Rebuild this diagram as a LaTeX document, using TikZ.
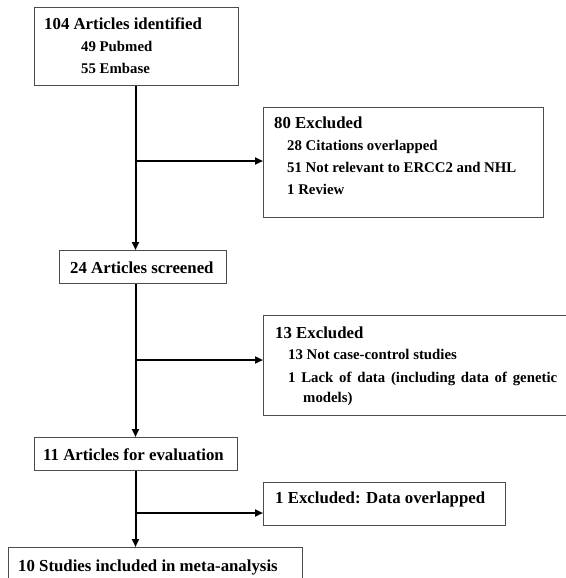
\documentclass[tikz,border=0pt]{standalone}
\usepackage{fontspec}
\setmainfont{Liberation Serif}
\usetikzlibrary{arrows.meta}
\newcommand\hdsize{\fontsize{16.8}{19}\selectfont}
\newcommand\subsize{\fontsize{14.8}{17}\selectfont}
\tikzset{
  box/.style={draw=black!70, line width=1.3pt, fill=none, inner sep=0pt, anchor=north west},
  hd/.style={font=\hdsize\bfseries, inner sep=0pt, anchor=base west},
  sub/.style={font=\subsize\bfseries, inner sep=0pt, anchor=base west},
  conn/.style={line width=2pt, draw=black},
  arr/.style={conn, -{Triangle[length=8pt,width=7pt]}}
}
\begin{document}
\begin{tikzpicture}[x=1pt,y=-1pt]
\useasboundingbox (0,0) rectangle (565,578);
% boxes
\node[box, minimum width=204pt, minimum height=78pt] (b1) at (34,7) {};
\node[box, minimum width=280pt, minimum height=110pt] (b80) at (263,107) {};
\node[box, minimum width=167pt, minimum height=33pt] (b24) at (59,250) {};
\node[box, minimum width=312pt, minimum height=100pt] (b13) at (263,315) {};
\node[box, minimum width=203pt, minimum height=33pt] (b11) at (34,437) {};
\node[box, minimum width=242pt, minimum height=43pt] (b1x) at (263,482) {};
\node[box, minimum width=294pt, minimum height=45pt] (b10) at (8,547) {};
% texts
\node[hd] (t1) at (44,30) {104 Articles identified};
\node[sub] (t1a) at (81,52) {49 Pubmed};
\node[sub] (t1b) at (81,74) {55 Embase};
\node[hd] (t80) at (274,128) {80 Excluded};
\node[sub] (t80a) at (287,150) {28 Citations overlapped};
\node[sub] (t80b) at (287,172) {51 Not relevant to ERCC2 and NHL};
\node[sub] (t80c) at (287,194) {1 Review};
\node[hd] (t24) at (70,273) {24 Articles screened};
\node[hd] (t13) at (275,338) {13 Excluded};
\node[sub] (t13a) at (288,359) {13 Not case-control studies};
\node[sub] (t13b) at (288,382) {\makebox[269pt][s]{1 Lack of data (including data of genetic}};
\node[sub] (t13c) at (303,402) {models)};
\node[hd] (t11) at (43,460) {11 Articles for evaluation};
\node[hd] (t1x) at (275,503) {1 Excluded: Data overlapped};
\node[hd] (t10) at (18,571) {10 Studies included in meta-analysis};
% connectors
\coordinate (j1) at (135.5,161);
\coordinate (j2) at (135.5,360);
\coordinate (j3) at (135.5,513);
\draw[arr] (b1.south -| j1) -- (j1 |- b24.north);
\draw[arr] (j1) -- (j1 -| b80.west);
\draw[arr] (b24.south -| j2) -- (j2 |- b11.north);
\draw[arr] (j2) -- (j2 -| b13.west);
\draw[arr] (b11.south -| j3) -- (j3 |- b10.north);
\draw[arr] (j3) -- (j3 -| b1x.west);
\end{tikzpicture}
\end{document}
